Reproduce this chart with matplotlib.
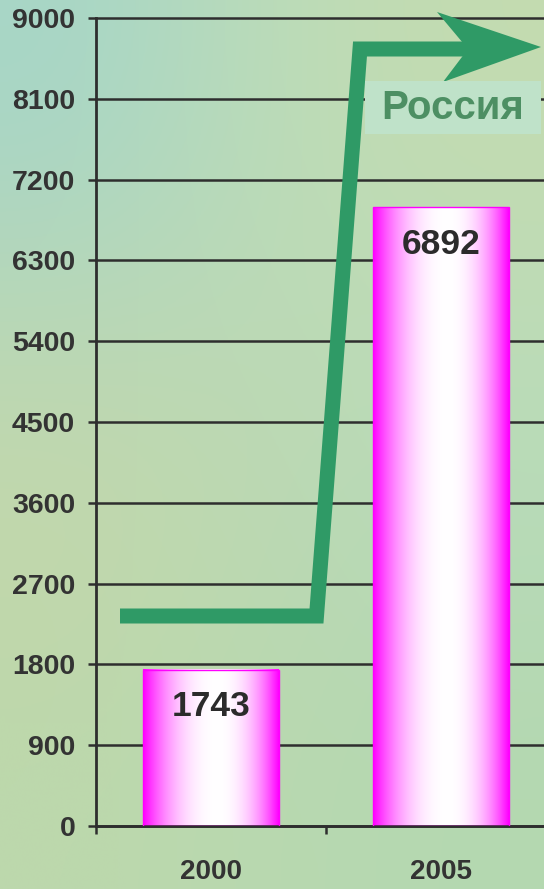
import numpy as np
import matplotlib
matplotlib.use('Agg')
import matplotlib.pyplot as plt
from matplotlib.colors import to_rgb
from matplotlib.patches import Polygon, Rectangle
from matplotlib.lines import Line2D

# ---- data ----
categories = ['2000', '2005']
values = [1743, 6892]
y_ticks = [0, 900, 1800, 2700, 3600, 4500, 5400, 6300, 7200, 8100, 9000]
series_label = 'Россия'

W, H = 544, 889
plt.rcParams['font.family'] = ['Liberation Sans', 'DejaVu Sans']
fig = plt.figure(figsize=(W / 100, H / 100), dpi=100)

# ---- background ----
bg = fig.add_axes([0, 0, 1, 1], zorder=-10)
grid_hex = [["#a6d6c8", "#bcdcb8", "#c4dcb0"],
            ["#c6d8aa", "#bcd8b4", "#b8dcbc"],
            ["#bcd8ac", "#b8d8b0", "#b4d8b0"]]
grid = np.array([[to_rgb(c) for c in row] for row in grid_hex])
bg.imshow(grid, extent=[0, 1, 0, 1], aspect='auto', interpolation='bicubic')
bg.set_xlim(0, 1); bg.set_ylim(0, 1)
bg.axis('off')

# ---- main axes ----
ax = fig.add_axes([96 / W, 63 / H, 460 / W, 808 / H])
ax.patch.set_alpha(0)
x = np.arange(len(categories))
bars = ax.bar(x, values, width=0.587, facecolor='none', edgecolor='#ff00ff',
              lw=1, zorder=3)

# gradient fill for bars
t = np.linspace(0, 1, 300)
peak = 0.55
d = np.where(t < peak, (peak - t) / peak, (t - peak) / (1 - peak))
wgt = 1 - np.clip(d, 0, 1) ** 2.2
mag = np.array(to_rgb('#ff00ff'))
white = np.array([1, 1, 1])
grad = (mag[None, :] * (1 - wgt[:, None]) + white[None, :] * wgt[:, None])[None, :, :]
for b in bars:
    x0, w, h = b.get_x(), b.get_width(), b.get_height()
    ax.imshow(grad, extent=[x0, x0 + w, 0, h], aspect='auto', zorder=2.5,
              interpolation='bilinear')

for xi, v in zip(x, values):
    ax.annotate(str(v), xy=(xi, v), xytext=(0, -26.5), textcoords='offset points',
                ha='center', va='center', fontsize=25.5, fontweight='bold',
                color='#2b2b2b', zorder=5)

ax.set_xlim(-0.5, 1.5)
ax.set_ylim(0, 9000)

ax.set_yticks(y_ticks)
ax.set_yticklabels([str(v) for v in y_ticks])
ax.yaxis.grid(True, color='#2e2e2e', lw=1.8)
for gl in ax.get_ygridlines():
    gl.set_clip_on(False)
ax.set_axisbelow(True)

ax.set_xticks([-0.5, 0.5, 1.5])
ax.set_xticklabels(['', '', ''])
ax.set_xticks(x, minor=True)
ax.set_xticklabels(categories, minor=True)
ax.tick_params(axis='x', which='major', length=6, width=1.8, color='#2e2e2e', direction='out')
ax.tick_params(axis='x', which='minor', length=0, pad=24, labelsize=20, labelcolor='#333333')
ax.tick_params(axis='y', length=6, width=1.8, color='#2e2e2e', direction='out', pad=9,
               labelsize=20.5, labelcolor='#333333')
for lab in ax.get_yticklabels() + ax.get_xticklabels(minor=True):
    lab.set_fontweight('bold')

for s in ['top', 'right']:
    ax.spines[s].set_visible(False)
for s in ['left', 'bottom']:
    ax.spines[s].set_color('#2e2e2e')
    ax.spines[s].set_linewidth(2)

# ---- decorative arrow ----
green = '#2f9a66'
px = np.array([120, 316.5, 360, 470])
py = np.array([616, 616, 49, 49])
fig.add_artist(Line2D(px / W, 1 - py / H, transform=fig.transFigure, color=green,
                      lw=10.8, solid_joinstyle='miter', solid_capstyle='butt', zorder=4))
head = np.array([(437, 12), (541, 47), (443, 82), (468, 49)], dtype=float)
head[:, 0] /= W
head[:, 1] = 1 - head[:, 1] / H
fig.add_artist(Polygon(head, closed=True, transform=fig.transFigure, facecolor=green,
                       edgecolor='none', zorder=4))

fig.add_artist(Rectangle((365 / W, 1 - 134 / H), 176 / W, 53 / H, transform=fig.transFigure,
                         facecolor='#bfe2c9', edgecolor='none', zorder=5))
fig.text(453 / W, 1 - 108 / H, series_label, ha='center', va='center', fontsize=29,
         fontweight='bold', color='#4d8f63', zorder=6)

fig.savefig('out.png', dpi=100)
